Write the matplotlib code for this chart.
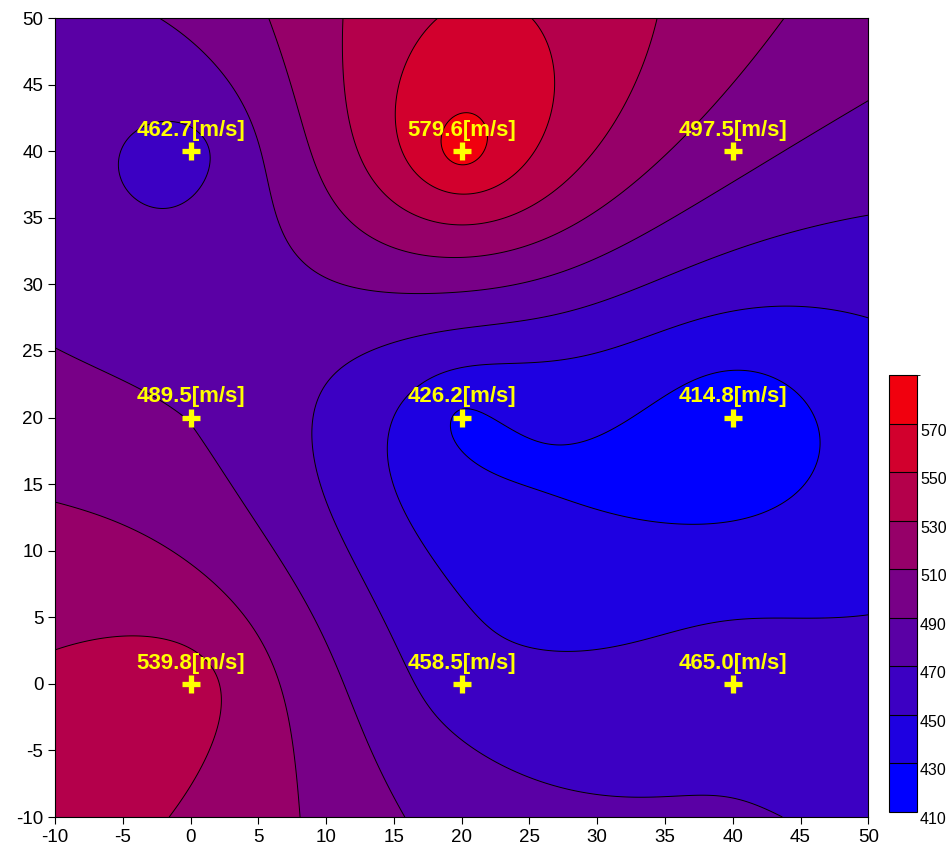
import matplotlib
import numpy as np

matplotlib.use("Agg")
import matplotlib.pyplot as plt
from matplotlib.colors import ListedColormap, BoundaryNorm

plt.rcParams["font.family"] = ["Liberation Sans", "DejaVu Sans"]
plt.rcParams["axes.unicode_minus"] = False

# measurement stations and measured velocities [m/s]
station_x = [0, 20, 40, 0, 20, 40, 0, 20, 40]
station_y = [40, 40, 40, 20, 20, 20, 0, 0, 0]
velocity = [462.7, 579.6, 497.5, 489.5, 426.2, 414.8, 539.8, 458.5, 465.0]

levels = np.arange(410, 591, 20)
cbar_ticks = np.arange(410, 571, 20)


def kriging_linear(px, py, pv, gx, gy):
    # ordinary kriging with a linear variogram
    px, py, pv = map(np.asarray, (px, py, pv))
    n = len(px)
    r = np.hypot(px[:, None] - px[None, :], py[:, None] - py[None, :])
    a = np.ones((n + 1, n + 1))
    a[:n, :n] = -r
    a[n, n] = 0.0
    coef = np.linalg.solve(a, np.concatenate([pv, [0.0]]))
    rg = np.hypot(gx[..., None] - px, gy[..., None] - py)
    return -rg @ coef[:n] + coef[n]


gx, gy = np.meshgrid(np.linspace(-10, 50, 361), np.linspace(-10, 50, 361))
field = kriging_linear(station_x, station_y, velocity, gx, gy)

n_bands = len(levels) - 1
vmin, vmax = levels[0], max(velocity)
colors = []
for lev in levels[:-1]:
    t = min(max((lev - vmin) / (vmax - vmin), 0), 1)
    colors.append((t, 0, 1 - t))
cmap = ListedColormap(colors)
norm = BoundaryNorm(levels, n_bands)

fig = plt.figure(figsize=(9.5, 8.47), dpi=100)
ax = fig.add_axes([0.058, 0.0354, 0.856, 0.9433])
cax = fig.add_axes([0.936, 0.0413, 0.0295, 0.516])

cf = ax.contourf(gx, gy, field, levels=levels, cmap=cmap, norm=norm)
ax.contour(gx, gy, field, levels=levels, colors="black", linewidths=0.7)

ax.plot(station_x, station_y, linestyle="none", marker="+", markersize=13,
        markeredgewidth=3.8, color="yellow")
for x, y, v in zip(station_x, station_y, velocity):
    ax.text(x, y + 1.55, f"{v:.1f}[m/s]", color="yellow", fontsize=16,
            fontweight="bold", ha="center", va="center")

ax.set_xlim(-10, 50)
ax.set_ylim(-10, 50)
ax.set_xticks(np.arange(-10, 51, 5))
ax.set_yticks(np.arange(-10, 51, 5))
ax.tick_params(labelsize=13.5, direction="out", length=5)

cb = fig.colorbar(cf, cax=cax, ticks=cbar_ticks, drawedges=True)
cb.dividers.set_linewidth(0.8)
cax.set_ylim(410, 590)
cax.tick_params(length=0, labelsize=11.5, pad=2)
for lab in cax.get_yticklabels():
    lab.set_verticalalignment("top")

fig.savefig("out.png", dpi=100)
plt.close(fig)
